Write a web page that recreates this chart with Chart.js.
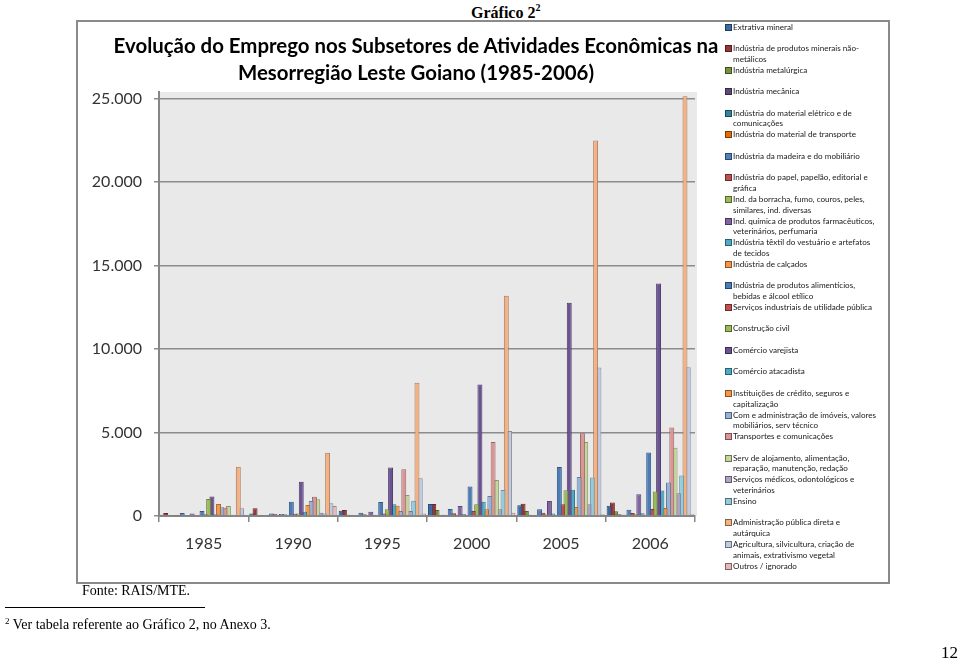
<!DOCTYPE html>
<html>
<head>
<meta charset="utf-8">
<script src="https://cdn.jsdelivr.net/npm/chart.js@4.4.0/dist/chart.umd.min.js"></script>
<style>
  html, body { margin: 0; padding: 0; background: #fff; }
  body { width: 960px; height: 660px; position: relative; overflow: hidden; }
  #c { position: absolute; left: 0; top: 0; }
  .serif { font-family: "Liberation Serif", "Times New Roman", serif; color: #000; position: absolute; white-space: nowrap; }
  #frame { position: absolute; left: 76px; top: 20px; width: 810px; height: 560px; border: 2px solid #8a8a8a; }
  #title { position: absolute; left: 90px; width: 652px; top: 32px; text-align: center; font-family: Lato, "Open Sans", sans-serif; font-weight: bold; font-size: 20.4px; line-height: 27px; color: #000; white-space: nowrap; }
  .lg { position: absolute; left: 724px; font-family: Lato, "Open Sans", sans-serif; font-size: 8.1px; line-height: 10.6px; color: #1a1a1a; white-space: pre; }
  .lg i { position: absolute; left: 1px; top: 2px; width: 5px; height: 5px; border: 1px solid rgba(0,0,0,0.45); }
  .lg span { position: absolute; left: 9px; top: 0; }
</style>
</head>
<body>
<div class="serif" style="left:471px; top:4px; font-size:16px; font-weight:bold;">Gráfico 2<sup style="font-size:10px; position:relative; top:-2px; vertical-align:top;">2</sup></div>
<div id="frame"></div>
<canvas id="c" width="960" height="660"></canvas>
<div id="title">Evolução do Emprego nos Subsetores de Atividades Econômicas na<br>Mesorregião Leste Goiano (1985-2006)</div>
<div id="legend"></div>
<div class="serif" style="left:82px; top:583px; font-size:14px;">Fonte: RAIS/MTE.</div>
<div style="position:absolute; left:5px; top:607px; width:200px; height:1px; background:#000;"></div>
<div class="serif" style="left:5px; top:617px; font-size:14px;"><sup style="font-size:9px; vertical-align:top; position:relative; top:-1px;">2</sup> Ver tabela referente ao Gráfico 2, no Anexo 3.</div>
<div class="serif" style="left:941px; top:643px; font-size:17px;">12</div>
<script>
const years = ["1985", "1990", "1995", "2000", "2005", "2006"];

const seriesNames = [
  "Extrativa mineral",
  "Indústria de produtos minerais não-\nmetálicos",
  "Indústria metalúrgica",
  "Indústria mecânica",
  "Indústria do material elétrico e de\ncomunicações",
  "Indústria do material de transporte",
  "Indústria da madeira e do mobiliário",
  "Indústria do papel, papelão, editorial e\ngráfica",
  "Ind. da borracha, fumo, couros, peles,\nsimilares, ind. diversas",
  "Ind. química de produtos farmacêuticos,\nveterinários, perfumaria",
  "Indústria têxtil do vestuário e artefatos\nde tecidos",
  "Indústria de calçados",
  "Indústria de produtos alimentícios,\nbebidas e álcool etílico",
  "Serviços industriais de utilidade pública",
  "Construção civil",
  "Comércio varejista",
  "Comércio atacadista",
  "Instituições de crédito, seguros e\ncapitalização",
  "Com e administração de imóveis, valores\nmobiliários, serv técnico",
  "Transportes e comunicações",
  "Serv de alojamento, alimentação,\nreparação, manutenção, redação",
  "Serviços médicos, odontológicos e\nveterinários",
  "Ensino",
  "Administração pública direta e\nautárquica",
  "Agricultura, silvicultura, criação de\nanimais, extrativismo vegetal",
  "Outros / ignorado"
];

const seriesColors = [
  "#3C6AA5", "#963634", "#76923C", "#5F497A", "#31859C", "#E36C09",
  "#4F81BD", "#C0504D", "#9BBB59", "#8064A2", "#4BACC6", "#F79646",
  "#4A7CBA", "#C0504D", "#9BBB59", "#6B5293", "#4BACC6", "#F79646",
  "#95B3D7", "#D99694", "#C3D69B", "#B3A2C7", "#93CDDD", "#F4B183",
  "#BFCBE2", "#E6B9B8"
];

// values per series: 1985, 1990, 1995, 2000, 2005, 2006
const extrativaMineral     = [80, 150, 320, 720, 640, 620];
const mineraisNaoMetalicos = [180, 460, 360, 720, 740, 810];
const metalurgica          = [50, 60, 80, 360, 300, 280];
const mecanica             = [60, 60, 60, 60, 80, 100];
const materialEletrico     = [30, 40, 50, 80, 60, 80];
const materialTransporte   = [20, 30, 40, 60, 60, 80];
const madeiraMobiliario    = [180, 150, 200, 420, 400, 380];
const papelGrafica         = [60, 120, 100, 160, 200, 180];
const borrachaFumoCouros   = [40, 60, 60, 80, 100, 120];
const quimicaFarmaceutica  = [150, 120, 260, 600, 900, 1310];
const textilVestuario      = [30, 100, 80, 120, 150, 160];
const calcados             = [10, 10, 20, 40, 50, 60];
const alimenticiosBebidas  = [300, 860, 840, 1760, 2940, 3810];
const utilidadePublica     = [100, 130, 150, 300, 700, 420];
const construcaoCivil      = [1020, 150, 400, 700, 1540, 1470];
const comercioVarejista    = [1170, 2050, 2900, 7880, 12780, 13930];
const comercioAtacadista   = [100, 260, 700, 860, 1580, 1530];
const instituicoesCredito  = [720, 660, 620, 400, 540, 480];
const administracaoImoveis = [520, 900, 300, 1200, 2340, 2000];
const transportesComunic   = [500, 1160, 2800, 4430, 4950, 5300];
const alojamentoAlimentacao= [600, 1000, 1260, 2160, 4440, 4090];
const servicosMedicos      = [80, 200, 300, 400, 700, 1370];
const ensino               = [60, 150, 920, 1560, 2300, 2420];
const administracaoPublica = [2950, 3790, 7980, 13200, 22500, 25150];
const agricultura          = [460, 760, 2260, 5090, 8900, 8910];
const outrosIgnorado       = [50, 600, 150, 200, 100, 100];

const seriesValues = [
  extrativaMineral, mineraisNaoMetalicos, metalurgica, mecanica, materialEletrico,
  materialTransporte, madeiraMobiliario, papelGrafica, borrachaFumoCouros,
  quimicaFarmaceutica, textilVestuario, calcados, alimenticiosBebidas,
  utilidadePublica, construcaoCivil, comercioVarejista, comercioAtacadista,
  instituicoesCredito, administracaoImoveis, transportesComunic,
  alojamentoAlimentacao, servicosMedicos, ensino, administracaoPublica,
  agricultura, outrosIgnorado
];

const yTicks = [0, 5000, 10000, 15000, 20000, 25000];

function darker(hex, f) {
  const n = parseInt(hex.slice(1), 16);
  const r = Math.round(((n >> 16) & 255) * f), g = Math.round(((n >> 8) & 255) * f), b = Math.round((n & 255) * f);
  return `rgb(${r},${g},${b})`;
}

const datasets = seriesNames.map((name, i) => ({
  label: name.replace("\n", " "),
  data: seriesValues[i],
  backgroundColor: seriesColors[i],
  borderColor: darker(seriesColors[i], 0.7),
  borderWidth: 1,
  borderSkipped: 'bottom',
  categoryPercentage: 0.96,
  barPercentage: 1.5
}));

// HTML legend built from the series arrays
const lg = document.getElementById('legend');
seriesNames.forEach((name, k) => {
  const d = document.createElement('div');
  d.className = 'lg';
  d.style.top = (21.5 + 21.56 * k) + 'px';
  const sq = document.createElement('i');
  sq.style.background = seriesColors[k];
  const sp = document.createElement('span');
  sp.textContent = name;
  d.appendChild(sq); d.appendChild(sp);
  lg.appendChild(d);
});

const plotBg = {
  id: 'plotBg',
  beforeDraw(chart) {
    const { ctx, chartArea: a } = chart;
    ctx.save();
    ctx.fillStyle = '#e9e9e9';
    ctx.fillRect(a.left, a.top, a.right - a.left + 2, a.bottom - a.top);
    ctx.restore();
  }
};

new Chart(document.getElementById('c'), {
  type: 'bar',
  data: { labels: years, datasets },
  plugins: [plotBg],
  options: {
    responsive: false,
    animation: false,
    layout: { padding: { left: 79, top: 92, right: 265, bottom: 104 } },
    plugins: { legend: { display: false }, title: { display: false }, tooltip: { enabled: false } },
    scales: {
      x: {
        offset: true,
        grid: { offset: true, drawOnChartArea: false, drawTicks: true, tickLength: 6, color: '#868686', lineWidth: 1.5 },
        border: { display: true, color: '#868686', width: 2 },
        ticks: { font: { family: 'Lato', size: 16 }, color: '#333', padding: 12 },
        afterFit(s) { s.height = 40; }
      },
      y: {
        min: 0,
        max: 25400,
        afterBuildTicks(axis) { axis.ticks = yTicks.map(v => ({ value: v })); },
        ticks: {
          font: { family: 'Lato', size: 16 }, color: '#333', padding: 12,
          callback: v => v.toLocaleString('de-DE')
        },
        grid: { color: '#8c8c8c', lineWidth: 1.5, tickLength: 5 },
        border: { display: true, color: '#868686', width: 2 },
        afterFit(s) { s.width = 80; }
      }
    }
  }
});
</script>
</body>
</html>
